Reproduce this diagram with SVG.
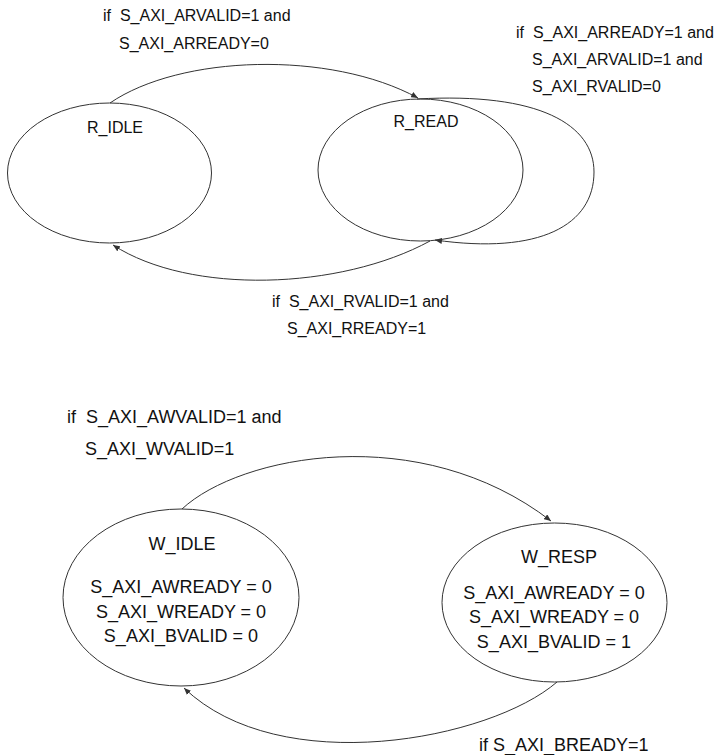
<svg xmlns="http://www.w3.org/2000/svg" width="718" height="755" viewBox="0 0 718 755">
<style>
.st{fill:#ffffff;stroke:#333333;stroke-width:1}
.cn{fill:none;stroke:#333333;stroke-width:1}
.t16{font-family:"Liberation Sans",Arial,sans-serif;font-size:16px;fill:#111111;white-space:pre}
.t18{font-family:"Liberation Sans",Arial,sans-serif;font-size:18px;fill:#111111;white-space:pre}
.mid{text-anchor:middle}
</style>
<defs>
<marker id="ah" markerWidth="7" markerHeight="6" refX="7" refY="3" orient="auto" markerUnits="userSpaceOnUse">
<path d="M0,0 L7,3 L0,6 z" fill="#333333"/>
</marker>
</defs>
<rect width="718" height="755" fill="#ffffff"/>
<g id="connectors">
<path class="cn" d="M 110 103 C 180 55, 330 50, 418 98" marker-end="url(#ah)"/>
<path class="cn" d="M 417 99 C 540 92, 594 125, 594 172 C 594 225, 540 255, 435 240" marker-end="url(#ah)"/>
<path class="cn" d="M 430 241 C 340 290, 190 295, 113 245" marker-end="url(#ah)"/>
<path class="cn" d="M 182 509 C 240 455, 420 420, 551 521" marker-end="url(#ah)"/>
<path class="cn" d="M 557 682 C 490 740, 280 780, 184 688" marker-end="url(#ah)"/>
</g>
<g id="R_IDLE">
<ellipse class="st" cx="109.5" cy="173" rx="102" ry="70" fill-opacity="0"/>
<text class="t16 mid" x="115" y="133">R_IDLE</text>
</g>
<g id="R_READ">
<ellipse class="st" cx="420.5" cy="170" rx="102.5" ry="71" fill-opacity="0"/>
<text class="t16 mid" x="426" y="127">R_READ</text>
</g>
<g id="W_IDLE">
<ellipse class="st" cx="181" cy="597.5" rx="118" ry="88.5"/>
<text class="t18 mid" x="182" y="550">W_IDLE</text>
<text class="t18 mid" x="181" y="593">S_AXI_AWREADY = 0</text>
<text class="t18 mid" x="181" y="618">S_AXI_WREADY = 0</text>
<text class="t18 mid" x="181" y="642">S_AXI_BVALID = 0</text>
</g>
<g id="W_RESP">
<ellipse class="st" cx="554.5" cy="602.5" rx="112.5" ry="79.5"/>
<text class="t18 mid" x="559" y="563">W_RESP</text>
<text class="t18 mid" x="554" y="599">S_AXI_AWREADY = 0</text>
<text class="t18 mid" x="554" y="623">S_AXI_WREADY = 0</text>
<text class="t18 mid" x="554" y="648">S_AXI_BVALID = 1</text>
</g>
<g id="labels">
<text class="t16" x="103" y="21">if  S_AXI_ARVALID=1 and</text>
<text class="t16" x="119" y="49">S_AXI_ARREADY=0</text>
<text class="t16" x="516" y="38">if  S_AXI_ARREADY=1 and</text>
<text class="t16" x="532" y="65">S_AXI_ARVALID=1 and</text>
<text class="t16" x="532" y="92">S_AXI_RVALID=0</text>
<text class="t16" x="272" y="307">if  S_AXI_RVALID=1 and</text>
<text class="t16" x="287" y="334">S_AXI_RREADY=1</text>
<text class="t18" x="67" y="423">if  S_AXI_AWVALID=1 and</text>
<text class="t18" x="85" y="455">S_AXI_WVALID=1</text>
<text class="t18" x="479" y="751">if S_AXI_BREADY=1</text>
</g>
</svg>
